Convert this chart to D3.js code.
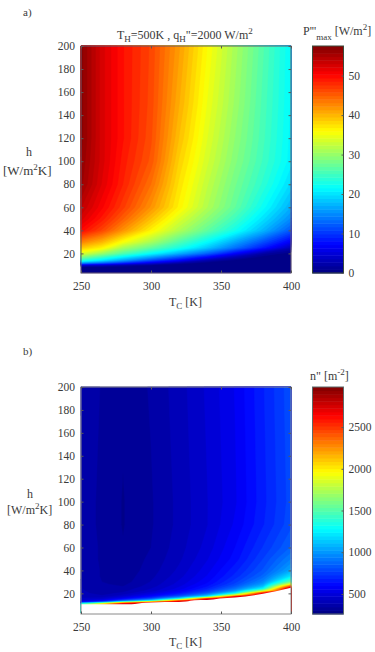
<!DOCTYPE html>
<html>
<head>
<meta charset="utf-8">
<style>
  html, body { margin: 0; padding: 0; background: #fff; }
  svg { display: block; }
  text { font-family: "Liberation Serif", serif; fill: #3a3a3a; }
</style>
<script src="https://cdn.jsdelivr.net/npm/d3@7/dist/d3.min.js"></script>
</head>
<body>
<svg id="chart" width="375" height="652"></svg>
<script>
// Cold-side temperature columns shared by both maps [K]
const tcGrid = [250, 265, 280, 300, 320, 340, 360, 380, 400];

// Convection coefficient rows for the power density map [W/m2K]
const hRowsPower = [3, 8, 10, 12, 14, 17, 20, 25, 30, 40, 50, 60, 80, 100, 120, 150, 200];
// Maximum power density, one row per h, one column per TC [W/m2]
const powerRows = [
  [0, 0, 0, 0, 0, 0, 0, 0, 0],
  [0.3, 0.2, 0, 0, 0, 0, 0, 0, 0],
  [5, 4, 2.5, 1, 0, 0, 0, 0, 0],
  [16, 13, 10, 6, 2.5, 0.5, 0, 0, 0],
  [23.5, 20, 16, 11, 7, 2.5, 0.5, 0, 0],
  [29, 25, 21, 16.5, 12, 7.5, 3, 0.5, 0],
  [34, 30, 26, 21.5, 17, 12.5, 7, 2, 0.3],
  [39, 36.5, 31, 27, 23, 18.5, 13.5, 8.5, 3],
  [43, 40, 35.5, 31, 26, 21.5, 16.5, 11.5, 6.5],
  [50, 46.5, 42, 36.5, 31.5, 27, 22.5, 17.5, 12],
  [52.5, 49, 45, 39.5, 34, 29.5, 25, 20, 15],
  [54, 50.5, 47, 42, 36.5, 31.5, 27, 22, 17],
  [56, 52, 48.5, 44, 37.5, 32.5, 28, 24, 19.5],
  [56.5, 52.5, 49, 45.5, 38.5, 33.5, 29, 25, 21],
  [57, 52.5, 49.5, 46, 39.5, 34.2, 29.6, 25.4, 21.2],
  [57, 52.5, 49.5, 46.3, 40.5, 35, 30.3, 25.7, 21.4],
  [57, 52.5, 49.5, 46.5, 41.5, 36, 31, 26.2, 21.5]
];

// Convection coefficient rows for the module density map [W/m2K]
const hRowsModules = [3, 10, 11, 12, 13, 14, 15, 16, 17, 18, 20, 22, 24, 26, 28, 30, 35, 40, 50, 60, 80, 100, 200];
// Module density, one row per h, one column per TC [1/m2]
const moduleRows = [
  [1500, 2200, 2800, 2800, 2800, 2800, 2800, 3000, 3000],
  [1500, 2200, 2800, 2800, 2800, 2800, 2800, 3000, 3000],
  [1280, 1800, 2600, 2800, 2800, 2800, 2800, 3000, 3000],
  [700, 1000, 1700, 2400, 2800, 2800, 2800, 3000, 3000],
  [520, 640, 1000, 1500, 2600, 2800, 2800, 3000, 3000],
  [470, 540, 750, 1050, 1900, 2800, 2800, 3000, 3000],
  [450, 480, 620, 850, 1350, 2600, 2800, 3000, 3000],
  [430, 440, 540, 720, 1050, 1900, 2800, 3000, 3000],
  [420, 410, 490, 640, 880, 1300, 2600, 3000, 3000],
  [410, 390, 450, 580, 760, 1080, 1950, 3000, 3000],
  [400, 370, 400, 500, 640, 850, 1280, 2600, 3000],
  [395, 360, 375, 450, 570, 740, 1020, 1750, 3000],
  [390, 355, 360, 430, 530, 680, 900, 1280, 2950],
  [390, 350, 345, 410, 510, 640, 830, 1120, 2450],
  [390, 350, 335, 400, 490, 610, 780, 1020, 1900],
  [390, 345, 325, 390, 480, 590, 750, 960, 1550],
  [385, 340, 320, 375, 455, 560, 700, 870, 1210],
  [385, 340, 315, 365, 440, 540, 670, 820, 1050],
  [385, 335, 310, 355, 420, 510, 620, 770, 940],
  [385, 335, 305, 345, 410, 490, 600, 730, 860],
  [380, 330, 300, 340, 400, 470, 565, 680, 800],
  [380, 330, 300, 340, 400, 470, 550, 670, 790],
  [390, 340, 310, 350, 410, 480, 560, 680, 800]
];
// Lowest h with a valid solution; nothing is plotted beneath this edge
const limitTc = [250, 265, 278, 286, 296, 305, 315, 325, 331, 340, 349, 360, 380, 400];
const limitH = [10.5, 10.5, 10.6, 10.6, 11.9, 12.3, 12.4, 12.9, 14, 14.2, 15.6, 16.3, 19.6, 24.8];

// Axis ticks and colour limits
const tcTicks = [250, 300, 350, 400];
const hTicks = [20, 40, 60, 80, 100, 120, 140, 160, 180, 200];
const powerBarTicks = [0, 10, 20, 30, 40, 50];
const moduleBarTicks = [500, 1000, 1500, 2000, 2500];
const powerRange = [0, 57.5];
const moduleRange = [260, 2980];

// Classic rainbow colormap
const jetPositions = [0, 0.125, 0.375, 0.625, 0.875, 1];
const jetColors = ["#000080", "#0000ff", "#00ffff", "#ffff00", "#ff0000", "#800000"];
const jet = d3.scaleLinear().domain(jetPositions).range(jetColors).interpolate(d3.interpolateRgb).clamp(true);

const svg = d3.select("#chart");
const levelCount = 64;
const axisColor = "#5a5a5a";

function addText(parent, x, y, parts, opts = {}) {
  const t = parent.append("text")
    .attr("x", x).attr("y", y)
    .attr("font-size", opts.size || 11.5)
    .attr("text-anchor", opts.anchor || "start");
  if (opts.weight) t.attr("font-weight", opts.weight);
  let shift = 0;
  parts.forEach(p => {
    const rise = p.rise || 0;
    t.append("tspan")
      .attr("dy", shift - rise)
      .attr("font-size", p.size || opts.size || 11.5)
      .text(p.s);
    shift = rise;
  });
  return t;
}

function drawMap(cfg) {
  const g = svg.append("g");
  const x = d3.scaleLinear().domain([250, 400]).range([cfg.left, cfg.right]);
  const y = d3.scaleLinear().domain([cfg.hMin, 200]).range([cfg.bottom, cfg.top]);

  // Piecewise lookups from grid index to physical coordinates
  const tcOfIndex = d3.scaleLinear().domain(d3.range(tcGrid.length)).range(tcGrid).clamp(true);
  const hOfIndex = d3.scaleLinear().domain(d3.range(cfg.hRows.length)).range(cfg.hRows).clamp(true);
  const clampY = v => Math.min(cfg.bottom, y(v));
  const project = d3.geoTransform({
    point(px, py) {
      this.stream.point(x(tcOfIndex(px - 0.5)), clampY(hOfIndex(py - 0.5)));
    }
  });
  const path = d3.geoPath(project);

  const level = d3.scaleLinear().domain([0, levelCount]).range(cfg.range);
  const thresholds = d3.range(levelCount).map(i => level(i));
  const contours = d3.contours()
    .size([tcGrid.length, cfg.hRows.length])
    .smooth(true)
    .thresholds(thresholds)(cfg.rows.flat());

  const colorOf = d3.scaleLinear().domain(cfg.range).range([0, 1]);
  const bandFill = d => jet(colorOf(d.value + (cfg.range[1] - cfg.range[0]) / levelCount / 2));

  g.append("rect")
    .attr("x", cfg.left).attr("y", cfg.top)
    .attr("width", cfg.right - cfg.left).attr("height", cfg.bottom - cfg.top)
    .attr("fill", jet(0));

  g.append("g").selectAll("path").data(contours).join("path")
    .attr("d", path)
    .attr("fill", bandFill)
    .attr("stroke", bandFill)
    .attr("stroke-width", 0.4);

  // Region without a valid solution stays blank
  if (cfg.limitH) {
    const blank = d3.area()
      .x((d, i) => x(cfg.limitTc[i]))
      .y0(cfg.bottom)
      .y1(d => y(d))
      .curve(d3.curveMonotoneX);
    g.append("path").datum(cfg.limitH).attr("d", blank).attr("fill", "#fff");
  }

  // Box with inward ticks on all four sides
  const axes = g.append("g");
  axes.append("rect")
    .attr("x", cfg.left).attr("y", cfg.top)
    .attr("width", cfg.right - cfg.left).attr("height", cfg.bottom - cfg.top)
    .attr("stroke", cfg.frame).attr("stroke-width", 1).attr("fill", "none");

  const bottomAxis = d3.axisBottom(x).tickValues(tcTicks).tickSize(-2.5).tickPadding(9).tickFormat(d3.format("d"));
  const leftAxis = d3.axisLeft(y).tickValues(hTicks).tickSize(-2.5).tickPadding(6).tickFormat(d3.format("d"));
  const topAxis = d3.axisTop(x).tickValues(tcTicks).tickSize(-2.5).tickFormat("");
  const rightAxis = d3.axisRight(y).tickValues(hTicks).tickSize(-2.5).tickFormat("");

  const place = (axis, dx, dy) => {
    const a = axes.append("g").attr("transform", `translate(${dx},${dy})`).call(axis);
    a.select(".domain").remove();
    a.selectAll("line").attr("stroke", axisColor).attr("stroke-width", 1);
    a.selectAll("text").attr("font-size", 11.5).attr("font-family", "Liberation Serif").style("fill", "#3a3a3a");
    return a;
  };
  place(bottomAxis, 0, cfg.bottom);
  place(leftAxis, cfg.left, 0);
  place(topAxis, 0, cfg.top);
  place(rightAxis, cfg.right, 0);

  // Colour bar built from the same levels as the map
  const barY = d3.scaleLinear().domain(cfg.range).range([cfg.bottom, cfg.top]);
  const bar = svg.append("g");
  bar.selectAll("rect").data(d3.range(levelCount)).join("rect")
    .attr("x", cfg.barLeft)
    .attr("width", cfg.barRight - cfg.barLeft)
    .attr("y", i => barY(level(i + 1)))
    .attr("height", i => barY(level(i)) - barY(level(i + 1)) + 0.5)
    .attr("fill", i => jet((i + 0.5) / levelCount));
  bar.append("rect")
    .attr("x", cfg.barLeft).attr("y", cfg.top)
    .attr("width", cfg.barRight - cfg.barLeft).attr("height", cfg.bottom - cfg.top)
    .attr("fill", "none").attr("stroke", cfg.barFrame).attr("stroke-width", 1);
  const barAxis = d3.axisRight(barY).tickValues(cfg.barTicks).tickSize(-2).tickPadding(5).tickFormat(d3.format("d"));
  const ba = bar.append("g").attr("transform", `translate(${cfg.barRight},0)`).call(barAxis);
  ba.select(".domain").remove();
  ba.selectAll("line").attr("stroke", axisColor);
  ba.selectAll("text").attr("font-size", 11.5).attr("font-family", "Liberation Serif").style("fill", "#3a3a3a");
}

drawMap({
  left: 81, right: 291, top: 46, bottom: 273, hMin: 3,
  hRows: hRowsPower, rows: powerRows, range: powerRange,
  barLeft: 312.5, barRight: 343.5, barTicks: powerBarTicks,
  frame: "#6a5a70", barFrame: "#3a4a3a"
});
drawMap({
  left: 81, right: 291, top: 387, bottom: 614, hMin: 2,
  hRows: hRowsModules, rows: moduleRows, range: moduleRange,
  limitTc: limitTc, limitH: limitH,
  barLeft: 312.5, barRight: 343.5, barTicks: moduleBarTicks,
  frame: "#8a8a8a", barFrame: "#5a6a6a"
});

const labels = svg.append("g");

// Panel a annotations
addText(labels, 23, 16, [{ s: "a)" }], { size: 11 });
addText(labels, 117, 39, [
  { s: "T" }, { s: "H", rise: -3, size: 9 }, { s: "=500K , q" },
  { s: "H", rise: -3, size: 9 }, { s: "\"=2000 W/m" }, { s: "2", rise: 5, size: 9 }
], { size: 12 });
addText(labels, 303, 35, [
  { s: "P'''" }, { s: "max", rise: -5, size: 9 }, { s: " [W/m" }, { s: "2", rise: 5, size: 9 }, { s: "]" }
], { size: 12 });
addText(labels, 26, 156, [{ s: "h" }], { size: 12 });
addText(labels, 3, 175, [{ s: "[W/m" }, { s: "2", rise: 5, size: 9 }, { s: "K]" }], { size: 13 });
addText(labels, 169, 306, [{ s: "T" }, { s: "C", rise: -3, size: 9 }, { s: " [K]" }], { size: 12 });

// Panel b annotations
addText(labels, 23, 355, [{ s: "b)" }], { size: 11 });
addText(labels, 310, 380, [{ s: "n\" [m" }, { s: "-2", rise: 5, size: 9 }, { s: "]" }], { size: 12 });
addText(labels, 27, 498, [{ s: "h" }], { size: 12 });
addText(labels, 7, 514, [{ s: "[W/m" }, { s: "2", rise: 5, size: 9 }, { s: "K]" }], { size: 12 });
addText(labels, 169, 646, [{ s: "T" }, { s: "C", rise: -3, size: 9 }, { s: " [K]" }], { size: 12 });
</script>
</body>
</html>
